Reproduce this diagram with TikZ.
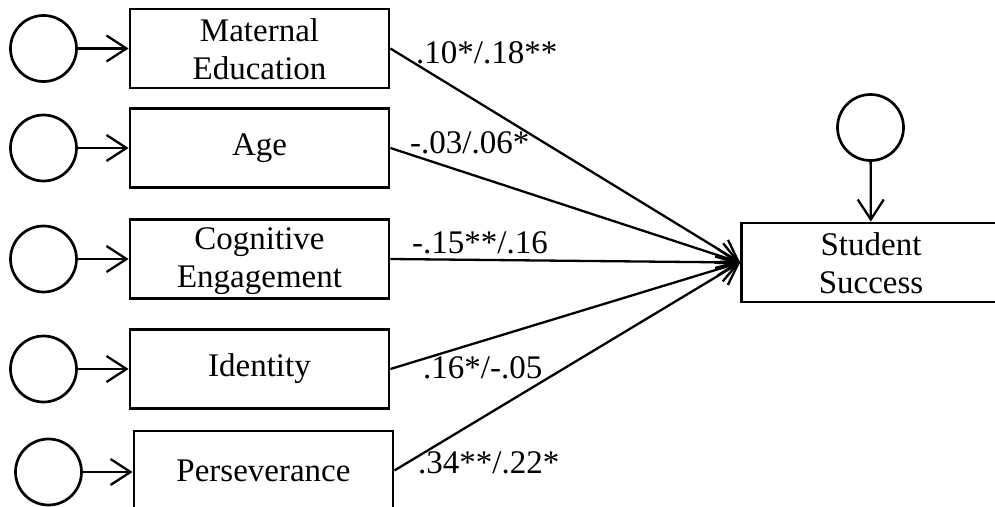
\documentclass[tikz,border=0pt]{standalone}
\usepackage{fontspec}
\setmainfont{Liberation Serif}
\usetikzlibrary{arrows.meta}
\newcommand{\topln}{\rule{0pt}{26pt}}
\newcommand{\botln}{\rule[-2pt]{0pt}{2pt}}
\begin{document}
\begin{tikzpicture}[x=1pt,y=-1pt,
  every node/.style={font=\fontsize{33}{38}\selectfont},
  varbox/.style={draw, line width=2.8pt, minimum width=259pt, minimum height=79pt, inner sep=0pt, align=center},
  errc/.style={draw, circle, line width=2.7pt, minimum size=66pt, inner sep=0pt},
  path/.style={line width=2.3pt, -{Straight Barb[length=20pt,width=26pt]}},
  coef/.style={anchor=base west, inner sep=0pt}]
\useasboundingbox (0,0) rectangle (995,506);
% predictor boxes
\node[varbox] (b1) at (259.5,48.5) {\topln Maternal\\Education\botln};
\node[varbox] (b2) at (259.5,148) {Age};
\node[varbox] (b3) at (259.5,259) {\topln Cognitive\\Engagement\botln};
\node[varbox] (b4) at (259.5,369) {Identity};
\node[varbox] (b5) at (263.5,470.5) {Perseverance};
% outcome box
\node[varbox] (ss) at (871,262.5) {\topln Student\\Success\botln};
% error circles
\node[errc] (e1) at (43.5,48.5) {};
\node[errc] (e2) at (43.5,148) {};
\node[errc] (e3) at (43.5,259) {};
\node[errc] (e4) at (43.5,369) {};
\node[errc] (e5) at (48.5,472) {};
\node[errc] (e6) at (870.5,127.5) {};
% error arrows
\draw[path] (e1) -- (b1);
\draw[path] (e2) -- (b2);
\draw[path] (e3) -- (b3);
\draw[path] (e4) -- (b4);
\draw[path] (e5.east) -- (e5.east -| b5.west);
\draw[path] (e6) -- (ss);
% structural paths
\draw[path] (b1.east) -- (ss.west);
\draw[path] (b2.east) -- (ss.west);
\draw[path] (b3.east) -- (ss.west);
\draw[path] (b4.east) -- (ss.west);
\draw[path] (b5.east) -- (ss.west);
% coefficients
\node[coef] (c1) at (416,63) {.10*/.18**};
\node[coef] (c2) at (410,153) {-.03/.06*};
\node[coef] (c3) at (412,253) {-.15**/.16};
\node[coef] (c4) at (423,378) {.16*/-.05};
\node[coef] (c5) at (418,473) {.34**/.22*};
\end{tikzpicture}
\end{document}
